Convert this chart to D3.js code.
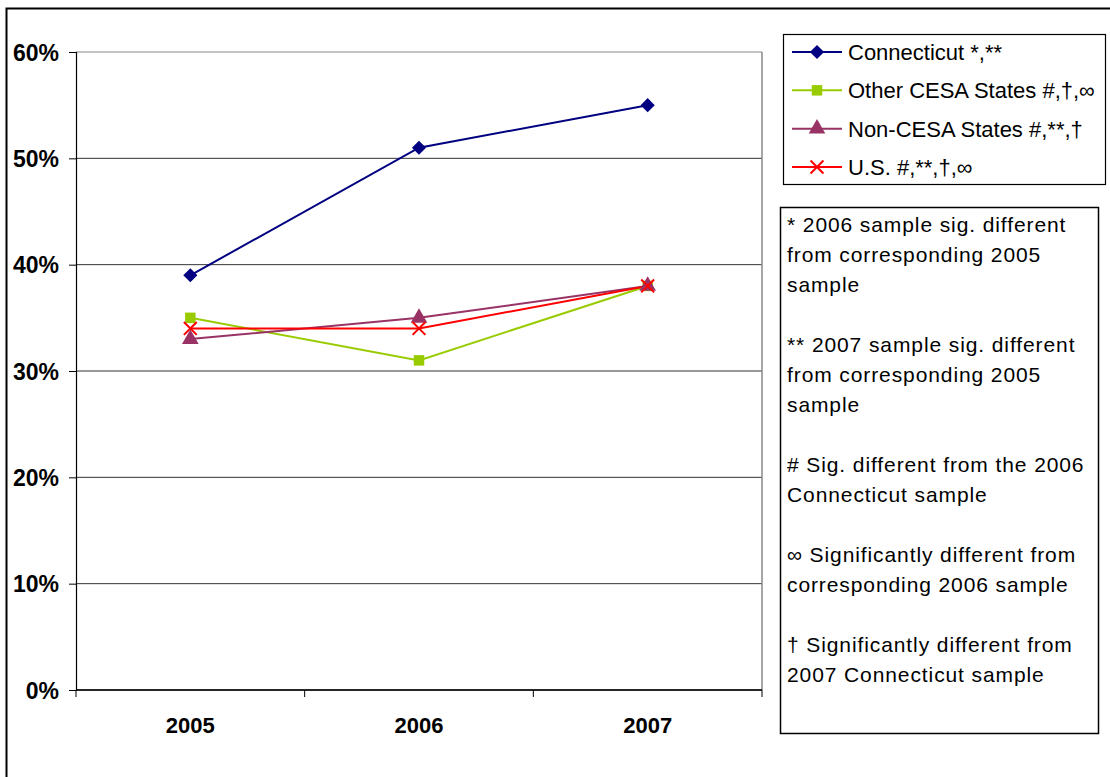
<!DOCTYPE html>
<html>
<head>
<meta charset="utf-8">
<script src="https://cdn.jsdelivr.net/npm/d3@7"></script>
<style>
  body { margin: 0; background: #fff; }
  text { font-family: "Liberation Sans", Arial, sans-serif; }
</style>
</head>
<body>
<div id="chart"></div>
<script>

var width = 1110,
    height = 777;

// Data
var years = ["2005", "2006", "2007"];
var connecticut = [39, 51, 55];
var otherCesa = [35, 31, 38];
var nonCesa = [33, 35, 38];
var us = [34, 34, 38];

var seriesNames = ["Connecticut *,**", "Other CESA States #,\u2020,\u221e", "Non-CESA States #,**,\u2020", "U.S. #,**,\u2020,\u221e"];
var yTicks = [0, 10, 20, 30, 40, 50, 60];

var notes = [
  "* 2006 sample sig. different", "from corresponding 2005", "sample", "",
  "** 2007 sample sig. different", "from corresponding 2005", "sample", "",
  "# Sig. different from the 2006", "Connecticut sample", "",
  "\u221e Significantly different from", "corresponding 2006 sample", "",
  "\u2020 Significantly different from", "2007 Connecticut sample"
];

var series = [
  { name: seriesNames[0], values: connecticut, color: "#000080", symbol: d3.symbolSquare, size: 100, rotate: 45 },
  { name: seriesNames[1], values: otherCesa, color: "#99CC00", symbol: d3.symbolSquare, size: 110, rotate: 0 },
  { name: seriesNames[2], values: nonCesa, color: "#993366", symbol: d3.symbolTriangle, size: 120, rotate: 0 },
  { name: seriesNames[3], values: us, color: "#FF0000", symbol: d3.symbolX, size: 110, rotate: 0 }
];

var svg = d3.select("#chart").append("svg")
    .attr("width", width)
    .attr("height", height);

// outer chart border (runs off the right and bottom edge)
svg.append("rect")
    .attr("x", 6.5).attr("y", 8.5)
    .attr("width", 1120).attr("height", 790)
    .attr("fill", "none").attr("stroke", "#000").attr("stroke-width", 2);

var plot = { left: 76, top: 52, right: 762, bottom: 690 };

var x = d3.scaleBand()
    .domain(years)
    .range([plot.left, plot.right]);

var y = d3.scaleLinear()
    .domain([0, 60])
    .range([plot.bottom, plot.top]);

// gridlines
svg.selectAll(".grid")
    .data(yTicks)
  .enter().append("line")
    .attr("class", "grid")
    .attr("x1", plot.left).attr("x2", plot.right)
    .attr("y1", function(d) { return y(d); })
    .attr("y2", function(d) { return y(d); })
    .attr("stroke", function(d) { return d === 60 ? "#888" : "#333"; })
    .attr("stroke-width", 1);

// plot area right border
svg.append("line")
    .attr("x1", plot.right).attr("x2", plot.right)
    .attr("y1", plot.top).attr("y2", plot.bottom)
    .attr("stroke", "#888").attr("stroke-width", 1.5);

// y axis
var yAxis = d3.axisLeft(y)
    .tickValues(yTicks)
    .tickSize(7)
    .tickPadding(10)
    .tickFormat(function(d) { return d + "%"; });

var gy = svg.append("g")
    .attr("transform", "translate(" + plot.left + ",0)")
    .call(yAxis);
gy.select(".domain").attr("stroke", "#000").attr("stroke-width", 1.2);
gy.selectAll("line").attr("stroke", "#000");
gy.selectAll("text")
    .attr("font-size", 23)
    .attr("font-weight", "bold")
    .attr("fill", "#000")
    .attr("dy", "0.36em")
    .style("font-family", "'Liberation Sans', Arial, sans-serif");

// x axis: ticks between categories
var gx = svg.append("g");
gx.append("line")
    .attr("x1", plot.left).attr("x2", plot.right)
    .attr("y1", plot.bottom).attr("y2", plot.bottom)
    .attr("stroke", "#000").attr("stroke-width", 1.5);
gx.selectAll(".xtick")
    .data(years.concat(["end"]))
  .enter().append("line")
    .attr("x1", function(d, i) { return i < years.length ? x(d) : plot.right; })
    .attr("x2", function(d, i) { return i < years.length ? x(d) : plot.right; })
    .attr("y1", plot.bottom).attr("y2", plot.bottom + 7)
    .attr("stroke", "#000");
gx.selectAll(".xlabel")
    .data(years)
  .enter().append("text")
    .attr("x", function(d) { return x(d) + x.bandwidth() / 2; })
    .attr("y", plot.bottom + 43)
    .attr("text-anchor", "middle")
    .attr("font-size", 22)
    .attr("font-weight", "bold")
    .text(function(d) { return d; });

// series lines and markers
var line = d3.line()
    .x(function(d, i) { return x(years[i]) + x.bandwidth() / 2; })
    .y(function(d) { return y(d); });

series.forEach(function(s) {
  svg.append("path")
      .datum(s.values)
      .attr("d", line)
      .attr("fill", "none")
      .attr("stroke", s.color)
      .attr("stroke-width", 2);
});

function drawMarker(sel, s) {
  sel.attr("d", d3.symbol().type(s.symbol).size(s.size))
      .attr("fill", s.symbol === d3.symbolX ? "none" : s.color)
      .attr("stroke", s.color)
      .attr("stroke-width", s.symbol === d3.symbolX ? 2 : 0);
}

series.forEach(function(s) {
  svg.selectAll(null)
      .data(s.values)
    .enter().append("path")
      .call(drawMarker, s)
      .attr("transform", function(d, i) {
        return "translate(" + (x(years[i]) + x.bandwidth() / 2) + "," + y(d) + ") rotate(" + s.rotate + ")";
      });
});

// legend
var legend = svg.append("g");
legend.append("rect")
    .attr("x", 783.5).attr("y", 34.5)
    .attr("width", 322).attr("height", 150)
    .attr("fill", "#fff").attr("stroke", "#000").attr("stroke-width", 1.2);

var legendY = d3.scalePoint()
    .domain(seriesNames)
    .range([52, 167]);

series.forEach(function(s) {
  var ly = legendY(s.name);
  legend.append("line")
      .attr("x1", 792).attr("x2", 842)
      .attr("y1", ly).attr("y2", ly)
      .attr("stroke", s.color).attr("stroke-width", 2);
  legend.append("path")
      .call(drawMarker, s)
      .attr("transform", "translate(817," + ly + ") rotate(" + s.rotate + ")");
  legend.append("text")
      .attr("x", 848)
      .attr("y", ly + 8)
      .attr("font-size", 22)
      .text(s.name);
});

// notes box
var noteBox = svg.append("g");
noteBox.append("rect")
    .attr("x", 780.5).attr("y", 207.5)
    .attr("width", 318).attr("height", 526)
    .attr("fill", "#fff").attr("stroke", "#000").attr("stroke-width", 1.5);

noteBox.selectAll("text")
    .data(notes)
  .enter().append("text")
    .attr("x", 787)
    .attr("y", function(d, i) { return 232 + i * 30; })
    .attr("font-size", 21)
    .attr("letter-spacing", 0.9)
    .text(function(d) { return d; });

</script>
</body>
</html>
